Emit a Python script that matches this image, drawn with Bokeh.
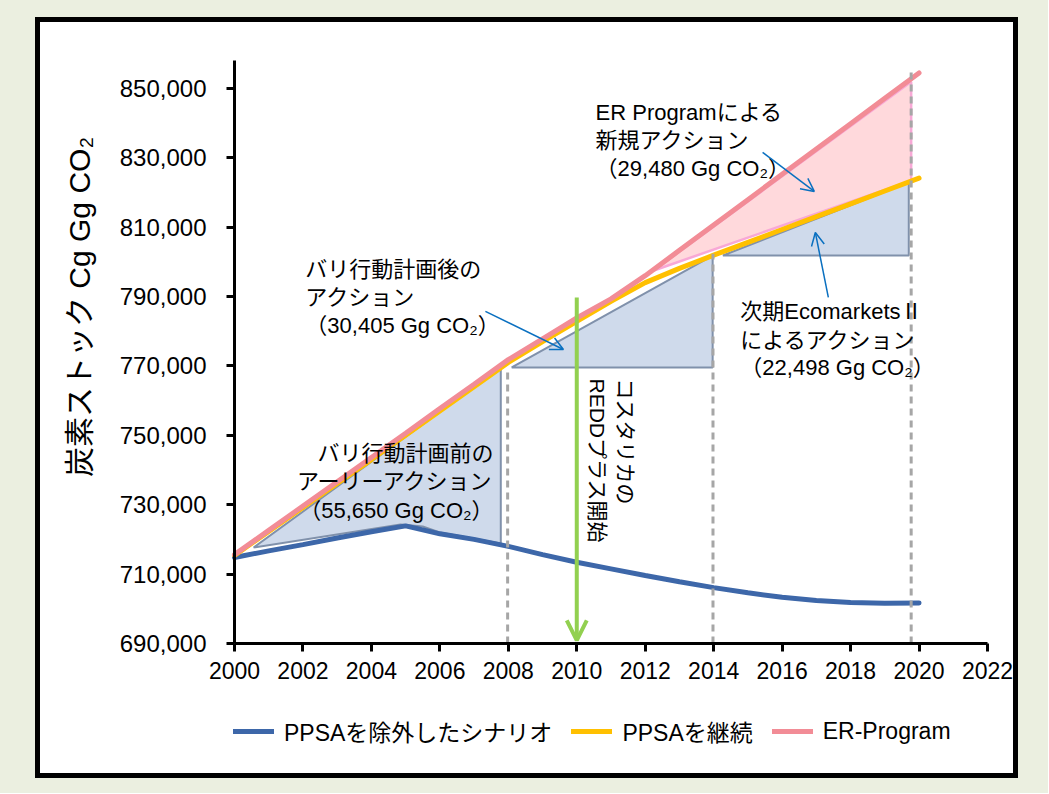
import math
from bokeh.plotting import figure
from bokeh.models import (Range1d, FixedTicker, NumeralTickFormatter, Legend, LegendItem,
                          Arrow, OpenHead)
from bokeh.layouts import column
from bokeh.core.properties import value
from bokeh.embed import file_html
from bokeh.resources import INLINE

# ---------------- data ----------------
years = list(range(2000, 2021))
ppsa_excluded = [714800, 716700, 718500, 720400, 722200, 723900, 721600, 720000, 718000,
                 715600, 713400, 711500, 709600, 707800, 706100, 704600, 703300, 702400,
                 701800, 701600, 701700]
ppsa_continued = [715400, 722300, 729200, 736100, 743000, 750000, 757000, 764000, 771000,
                  777000, 782800, 788600, 794000, 798100, 801900, 805600, 809300, 813000,
                  816700, 820400, 824100]
er_program = [715600, 722600, 729600, 736600, 743600, 750600, 757700, 764700, 771800,
              777800, 783800, 789300, 796000, 803300, 810600, 817900, 825200, 832500,
              839800, 847100, 854400]
series_names = ["PPSAを除外したシナリオ", "PPSAを継続", "ER-Program"]

y_ticks = [690000, 710000, 730000, 750000, 770000, 790000, 810000, 830000, 850000]
x_ticks = [2000, 2002, 2004, 2006, 2008, 2010, 2012, 2014, 2016, 2018, 2020, 2022]

y_label = "炭素ストック Cg Gg CO₂"
block_early = ["バリ行動計画前の", "アーリーアクション", "（55,650 Gg CO₂）"]
block_after = ["バリ行動計画後の", "アクション", "（30,405 Gg CO₂）"]
block_er = ["ER Programによる", "新規アクション", "（29,480 Gg CO₂）"]
block_eco = ["次期EcomarketsⅡ", "によるアクション", "（22,498 Gg CO₂）"]
redd_text = ["コスタリカの", "REDDプラス開始"]

# ---------------- styles ----------------
BLUE = "#3D67A9"
YELLOW = "#FFC000"
PINK = "#F28C96"
FILL_BLUE = "#CFDAEB"
EDGE_BLUE = "#8091AB"
FILL_PINK = "#FFD9DC"
EDGE_PINK = "#F8A8D6"
GREEN = "#92D050"
ARROW_BLUE = "#0A70C0"
GREY = "#A6A6A6"
FONT = "Liberation Sans, Noto Sans CJK JP"

X_MIN, X_MAX = 2000, 2022
Y_MIN, Y_MAX = 690000, 858000

# plot canvas 983 x 761; axes drawn at fixed positions inside a full-canvas frame
p = figure(width=983, height=761, output_backend="svg", toolbar_location=None,
           x_range=Range1d(1994.332, 2023.052), y_range=Range1d(649657, 868950),
           min_border=0)
p.styles = {"border": "5px solid black", "background-color": "white"}
p.margin = (17, 0, 0, 35)
p.background_fill_color = "white"
p.border_fill_color = "white"
p.outline_line_color = None
p.xgrid.visible = False
p.ygrid.visible = False

for ax in (p.xaxis[0], p.yaxis[0]):
    ax.axis_line_width = 3
    ax.axis_line_color = "black"
    ax.major_tick_line_width = 3
    ax.major_tick_line_color = "black"
    ax.major_tick_in = 0
    ax.major_tick_out = 8
    ax.minor_tick_line_color = None
    ax.major_label_text_font = FONT
    ax.major_label_text_color = "black"

p.yaxis.ticker = FixedTicker(ticks=y_ticks)
p.yaxis.bounds = (Y_MIN, Y_MAX)
p.yaxis.fixed_location = X_MIN
p.yaxis.formatter = NumeralTickFormatter(format="0,0")
p.yaxis.major_label_text_font_size = "24px"
p.yaxis.major_label_standoff = 20
p.yaxis.axis_label = "\u3000" * 3 + y_label
p.yaxis.axis_label_text_font = FONT
p.yaxis.axis_label_text_font_size = "30px"
p.yaxis.axis_label_text_font_style = "normal"
p.yaxis.axis_label_text_color = "black"
p.yaxis.axis_label_standoff = 21
p.xaxis.ticker = FixedTicker(ticks=x_ticks)
p.xaxis.bounds = (X_MIN, X_MAX)
p.xaxis.fixed_location = Y_MIN
p.xaxis.major_label_text_font_size = "23px"
p.xaxis.major_label_standoff = 10

# ---------------- shaded action areas ----------------
p.patches(
    xs=[[2000.56, 2004.85, 2005.5, 2006.0, 2007.78, 2007.78],
        [2008.1, 2013.97, 2013.97],
        [2014.27, 2019.7, 2019.7]],
    ys=[[717670, 724300, 723700, 722000, 718800, 769540],
        [769550, 801800, 769550],
        [801800, 822860, 801800]],
    fill_color=FILL_BLUE, line_color=EDGE_BLUE, line_width=2)
p.patch(x=[2012.25, 2019.77, 2019.77], y=[797500, 823400, 851900],
        fill_color=FILL_PINK, line_color=EDGE_PINK, line_width=2.5)

# ---------------- series ----------------
r_blue = p.line(years, ppsa_excluded, line_color=BLUE, line_width=5, line_cap="round")
r_yel = p.line(years, ppsa_continued, line_color=YELLOW, line_width=5, line_cap="round")
r_pink = p.line(years, er_program, line_color=PINK, line_width=5, line_cap="round")

# ---------------- dashed year markers ----------------
p.segment(x0=[2007.98, 2013.98, 2019.77], y0=[Y_MIN] * 3,
          x1=[2007.98, 2013.98, 2019.77], y1=[769500, 802300, 854600],
          line_color=GREY, line_width=3, line_dash="7 5")

# ---------------- arrows ----------------
p.add_layout(Arrow(x_start=2010, y_start=789700, x_end=2010, y_end=690900,
                   line_color=GREEN, line_width=4,
                   end=OpenHead(size=20, line_color=GREEN, line_width=4)))
for xs, ys, xe, ye in [(2007.33, 785700, 2009.61, 774730),
                       (2015.43, 831500, 2016.94, 820270),
                       (2017.35, 789720, 2016.97, 808450)]:
    p.add_layout(Arrow(x_start=xs, y_start=ys, x_end=xe, y_end=ye,
                       line_color=ARROW_BLUE, line_width=1.5,
                       end=OpenHead(size=13, line_color=ARROW_BLUE, line_width=1.5)))

# ---------------- annotation texts ----------------
def text_block(lines, x, ys, align):
    p.text(x=[x] * len(lines), y=ys, text=lines, text_font=value(FONT),
           text_font_size="22px", text_color="black", text_align=align,
           text_baseline="middle")

text_block(block_early, 2007.57, [744760, 736690, 728330], "right")
text_block(block_after, 2002.07, [797790, 789720, 781650], "left")
text_block(block_er, 2010.55, [843030, 834960, 826900], "left")
text_block(block_eco, 2014.78, [785680, 777320, 769540], "left")
p.text(x=[2011.42, 2010.6], y=[766370, 766370], text=redd_text, angle=-math.pi / 2,
       text_font=value(FONT), text_font_size="21px", text_color="black",
       text_align="left", text_baseline="middle")

# ---------------- legend ----------------
legend = Legend(items=[LegendItem(label=series_names[0], renderers=[r_blue]),
                       LegendItem(label=series_names[1], renderers=[r_yel]),
                       LegendItem(label=series_names[2], renderers=[r_pink])],
                orientation="horizontal", location=(193, 35),
                label_text_font=FONT, label_text_font_size="23px", label_text_color="black",
                glyph_width=41, glyph_height=22, label_standoff=10, spacing=19,
                border_line_color=None, background_fill_alpha=0, margin=0, padding=0)
p.add_layout(legend, "center")

layout = column(p, styles={"background-color": "#EBEFE0"}, width=1048, height=793)

open("out.html", "w").write(file_html(layout, INLINE))
